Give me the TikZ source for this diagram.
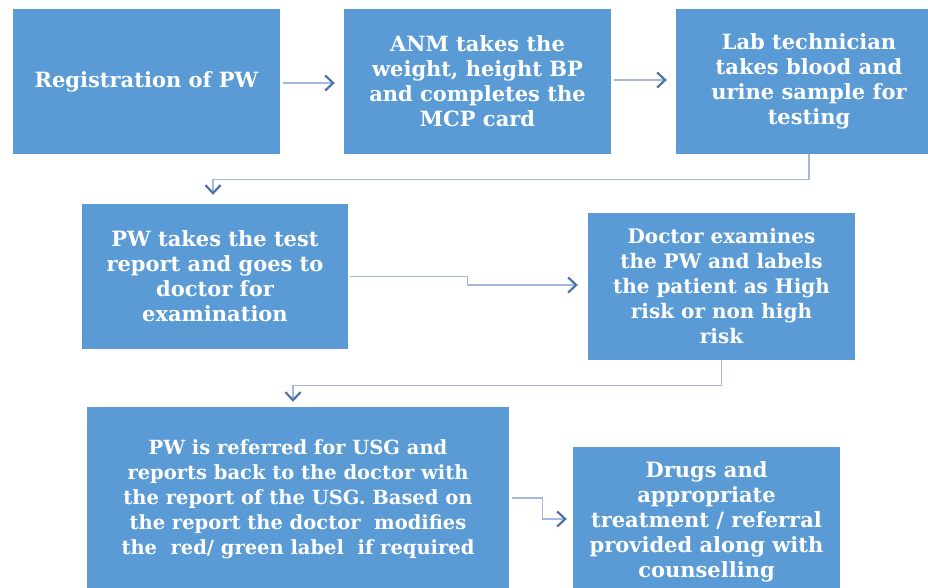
\documentclass[tikz,border=0pt]{standalone}
\usepackage{fontspec}
\setmainfont{DejaVu Serif}
\usetikzlibrary{arrows.meta}
\definecolor{boxfill}{HTML}{5B9BD5}
\definecolor{linec}{HTML}{A3B9DC}
\definecolor{tipc}{HTML}{4E73A8}
\tikzset{
  pbox/.style={rectangle, fill=boxfill, draw=none, text=white, align=center,
    font=\fontsize{21}{25}\selectfont\bfseries, inner sep=0pt},
  smallfont/.style={font=\fontsize{19.5}{25}\selectfont\bfseries},
  midfont/.style={font=\fontsize{20}{25}\selectfont\bfseries},
  conn/.style={draw=linec, line width=1.2pt,
    -{Straight Barb[length=8pt, width=15pt, line width=2.2pt, color=tipc]}},
}
\begin{document}
\begin{tikzpicture}[x=1pt, y=-1pt]
\clip (0,0) rectangle (928,588);
\fill[white] (0,0) rectangle (928,588);
\node[pbox, minimum width=267pt, minimum height=145pt] (b1) at (146.5,81.5) {Registration of PW};
\node[pbox, minimum width=267pt, minimum height=145pt] (b2) at (477.5,81.5) {ANM takes the\\weight, height BP\\and completes the\\MCP card};
\node[pbox, minimum width=266pt, minimum height=145pt] (b3) at (809,81.5) {Lab technician\\takes blood and\\urine sample for\\testing};
\node[pbox, minimum width=266pt, minimum height=145pt] (b4) at (215,276.5) {PW takes the test\\report and goes to\\doctor for\\examination};
\node[pbox, midfont, minimum width=267pt, minimum height=147pt] (b5) at (721.5,286.5) {Doctor examines\\the PW and labels\\the patient as High\\risk or non high\\risk};
\node[pbox, smallfont, minimum width=422pt, minimum height=185pt] (b6) at (298,499.5) {PW is referred for USG and\\reports back to the doctor with\\the report of the USG. Based on\\the report the doctor\ \ modifies\\the\ \ red/ green label\ \ if required};
\node[pbox, minimum width=267pt, minimum height=150pt] (b7) at (706.5,522) {Drugs and\\appropriate\\treatment / referral\\provided along with\\counselling};

\draw[conn, shorten <=3pt, shorten >=9pt] (b1.east|-0,83) -- (b2.west|-0,83);
\draw[conn, shorten <=3pt, shorten >=9pt] (b2.east|-0,80) -- (b3.west|-0,80);
\draw[conn, shorten >=9pt] (b3.south) -- ++(0,25) -| ([xshift=-2pt]b4.north);
\draw[conn, shorten <=2pt, shorten >=10pt] (b4.east) -- ++(119,0) |- (b5.west|-0,285);
\draw[conn, shorten >=5pt] (b5.south) -- ++(0,25) -| ([xshift=-5pt]b6.north);
\draw[conn, shorten <=3pt, shorten >=6pt] (b6.east|-0,498) -- ++(33,0) |- (b7.west|-0,519);
\end{tikzpicture}
\end{document}
